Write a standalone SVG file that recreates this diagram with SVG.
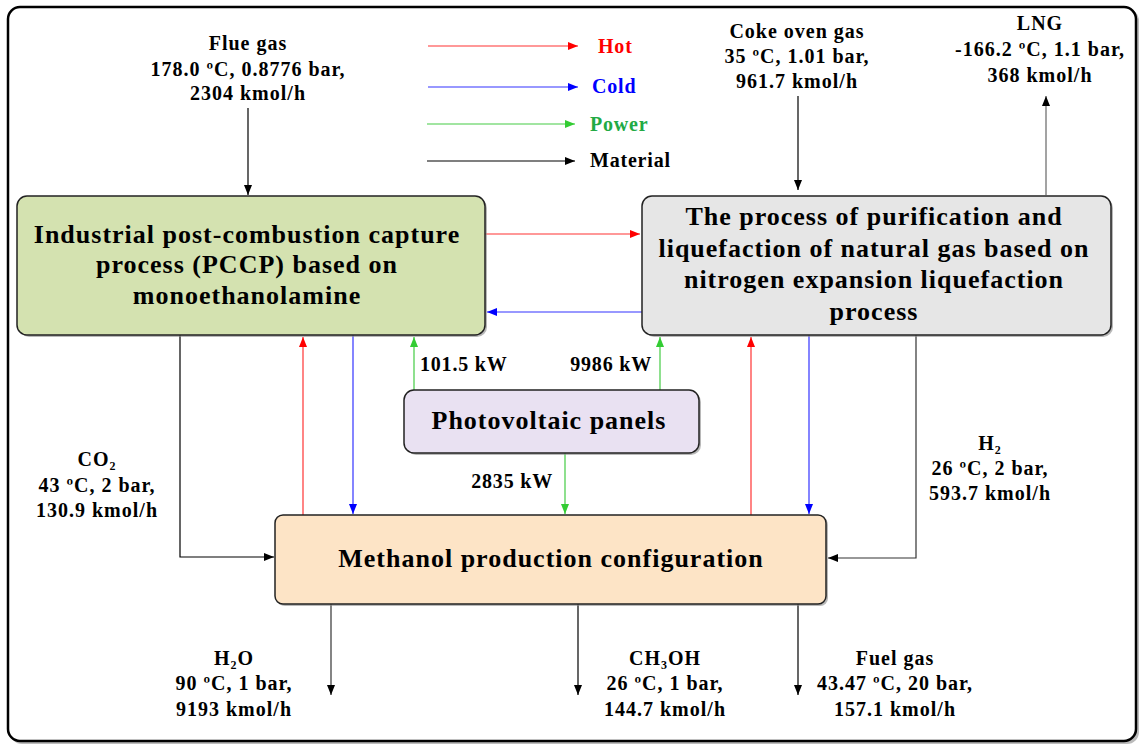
<svg xmlns="http://www.w3.org/2000/svg" width="1141" height="746" viewBox="0 0 1141 746" font-family="Liberation Serif, Times New Roman, serif" font-weight="bold">
  <defs>
    <marker id="aBlack" markerWidth="10" markerHeight="8" refX="10" refY="4" orient="auto" markerUnits="userSpaceOnUse">
      <path d="M0,0 L10,4 L0,8 Z" fill="#000"/>
    </marker>
    <marker id="aRed" markerWidth="10" markerHeight="8" refX="10" refY="4" orient="auto" markerUnits="userSpaceOnUse">
      <path d="M0,0 L10,4 L0,8 Z" fill="#ff0000"/>
    </marker>
    <marker id="aBlue" markerWidth="10" markerHeight="8" refX="10" refY="4" orient="auto" markerUnits="userSpaceOnUse">
      <path d="M0,0 L10,4 L0,8 Z" fill="#0000ff"/>
    </marker>
    <marker id="aGreen" markerWidth="10" markerHeight="8" refX="10" refY="4" orient="auto" markerUnits="userSpaceOnUse">
      <path d="M0,0 L10,4 L0,8 Z" fill="#33cc33"/>
    </marker>
  </defs>
  <style>
    .lbl { font-size: 20px; text-anchor: middle; letter-spacing: 1px; }
    .kw { font-size: 20px; letter-spacing: 0.8px; }
    .node { font-size: 26px; text-anchor: middle; letter-spacing: 1px; }
    .box { stroke: #222; stroke-width: 1.5; }
    .shadow { fill: #888; opacity: 0.6; }
    .mat { stroke: #000; stroke-width: 1.2; fill: none; marker-end: url(#aBlack); }
    .hot { stroke: #ff3333; stroke-width: 1.2; fill: none; marker-end: url(#aRed); }
    .cold { stroke: #3333ff; stroke-width: 1.2; fill: none; marker-end: url(#aBlue); }
    .pow { stroke: #44cc44; stroke-width: 1.2; fill: none; marker-end: url(#aGreen); }
  </style>

  <rect width="1141" height="746" fill="#fff"/>
  <!-- outer frame -->
  <rect x="10" y="9" width="1129" height="735" rx="12" fill="#bbb"/>
  <rect x="8" y="7" width="1128" height="734" rx="12" fill="#fff" stroke="#000" stroke-width="2.5"/>

  <!-- legend -->
  <g id="legend" font-size="20" letter-spacing="0.8">
    <line x1="428" y1="46" x2="578" y2="46" class="hot"/>
    <text x="598" y="53" fill="#ff0000">Hot</text>
    <line x1="428" y1="87" x2="578" y2="87" class="cold"/>
    <text x="592" y="93" fill="#0000ff">Cold</text>
    <line x1="427" y1="124" x2="575" y2="124" class="pow"/>
    <text x="590" y="131" fill="#22aa44">Power</text>
    <line x1="427" y1="161" x2="575" y2="161" class="mat"/>
    <text x="590" y="167">Material</text>
  </g>

  <!-- connectors -->
  <g id="connectors">
    <line x1="248" y1="108" x2="248" y2="195" class="mat"/>
    <line x1="798" y1="96" x2="798" y2="190" class="mat"/>
    <line x1="1046" y1="195" x2="1046" y2="96" class="mat" style="stroke:#666"/>
    <line x1="485" y1="234" x2="640" y2="234" class="hot"/>
    <line x1="642" y1="312" x2="487" y2="312" class="cold"/>
    <polyline points="180,335 180,557 274,557" class="mat"/>
    <line x1="303" y1="515" x2="303" y2="337" class="hot"/>
    <line x1="353" y1="335" x2="353" y2="514" class="cold"/>
    <line x1="414" y1="390" x2="414" y2="337" class="pow"/>
    <line x1="660" y1="390" x2="660" y2="337" class="pow"/>
    <line x1="565" y1="453" x2="565" y2="514" class="pow"/>
    <line x1="751" y1="515" x2="751" y2="337" class="hot"/>
    <line x1="809" y1="335" x2="809" y2="514" class="cold"/>
    <polyline points="916,335 916,558 828,558" class="mat" style="stroke:#333"/>
    <line x1="331" y1="604" x2="331" y2="695" class="mat" style="stroke:#333"/>
    <line x1="578" y1="604" x2="578" y2="695" class="mat"/>
    <line x1="798" y1="604" x2="798" y2="695" class="mat"/>
  </g>

  <!-- stream labels -->
  <g id="stream-labels">
    <text class="lbl" x="248" y="50">Flue gas</text>
    <text class="lbl" x="248" y="76">178.0 ºC, 0.8776 bar,</text>
    <text class="lbl" x="248" y="100">2304 kmol/h</text>

    <text class="lbl" x="797" y="38">Coke oven gas</text>
    <text class="lbl" x="797" y="63">35 ºC, 1.01 bar,</text>
    <text class="lbl" x="797" y="88">961.7 kmol/h</text>

    <text class="lbl" x="1040" y="30">LNG</text>
    <text class="lbl" x="1040" y="56">-166.2 ºC, 1.1 bar,</text>
    <text class="lbl" x="1040" y="82">368 kmol/h</text>

    <text class="lbl" x="97" y="466">CO₂</text>
    <text class="lbl" x="97" y="492">43 ºC, 2 bar,</text>
    <text class="lbl" x="97" y="517">130.9 kmol/h</text>

    <text class="lbl" x="990" y="450">H₂</text>
    <text class="lbl" x="990" y="475">26 ºC, 2 bar,</text>
    <text class="lbl" x="990" y="500">593.7 kmol/h</text>

    <text class="lbl" x="234" y="665">H₂O</text>
    <text class="lbl" x="234" y="690">90 ºC, 1 bar,</text>
    <text class="lbl" x="234" y="716">9193 kmol/h</text>

    <text class="lbl" x="665" y="665">CH₃OH</text>
    <text class="lbl" x="665" y="690">26 ºC, 1 bar,</text>
    <text class="lbl" x="665" y="716">144.7 kmol/h</text>

    <text class="lbl" x="895" y="665">Fuel gas</text>
    <text class="lbl" x="895" y="690">43.47 ºC, 20 bar,</text>
    <text class="lbl" x="895" y="716">157.1 kmol/h</text>

    <text class="kw" x="420" y="371">101.5 kW</text>
    <text class="kw" x="652" y="371" text-anchor="end">9986 kW</text>
    <text class="kw" x="553" y="488" text-anchor="end">2835 kW</text>
  </g>

  <!-- PCCP node -->
  <g id="pccp">
    <rect x="19" y="198" width="468" height="139" rx="10" class="shadow"/>
    <rect x="17" y="196" width="468" height="139" rx="10" fill="#d4e2b0" class="box"/>
    <text class="node" x="247" y="243">Industrial post-combustion capture</text>
    <text class="node" x="247" y="273">process (PCCP)  based on</text>
    <text class="node" x="247" y="304">monoethanolamine</text>
  </g>

  <!-- natural gas purification / liquefaction node -->
  <g id="lng-process">
    <rect x="644" y="198" width="469" height="139" rx="10" class="shadow"/>
    <rect x="642" y="196" width="469" height="139" rx="10" fill="#e6e6e6" class="box"/>
    <text class="node" x="874" y="225">The process of purification and</text>
    <text class="node" x="874" y="257">liquefaction of natural gas based on</text>
    <text class="node" x="874" y="288">nitrogen expansion liquefaction</text>
    <text class="node" x="874" y="320">process</text>
  </g>

  <!-- photovoltaic node -->
  <g id="pv">
    <rect x="406" y="392" width="295" height="63" rx="10" class="shadow"/>
    <rect x="404" y="390" width="295" height="63" rx="10" fill="#e9e1f2" class="box"/>
    <text class="node" x="549" y="429">Photovoltaic panels</text>
  </g>

  <!-- methanol node -->
  <g id="methanol">
    <rect x="277" y="517" width="551" height="89" rx="8" class="shadow"/>
    <rect x="275" y="515" width="551" height="89" rx="8" fill="#fde4c6" class="box"/>
    <text class="node" x="551" y="567">Methanol production configuration</text>
  </g>
</svg>
